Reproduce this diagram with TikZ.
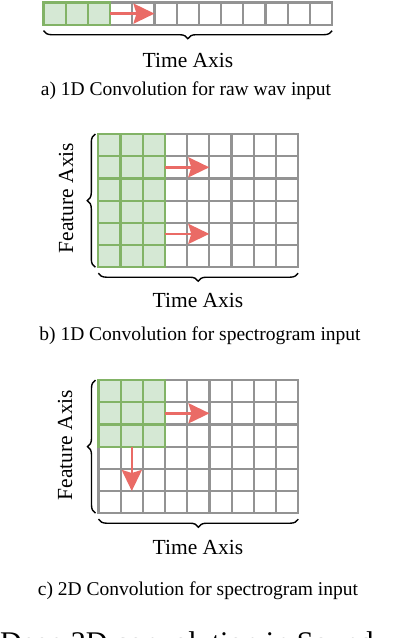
\documentclass[tikz,border=0pt]{standalone}
\usepackage{fontspec}
\setmainfont{Liberation Serif}
\usepackage{xcolor}
\usepackage{tikz}
\usetikzlibrary{arrows.meta,positioning,calc,decorations.pathreplacing}

\definecolor{kernelfill}{HTML}{D5E8D4}
\definecolor{kernelborder}{HTML}{82B366}
\definecolor{slidered}{HTML}{EA6B66}
\definecolor{gridgray}{HTML}{939393}

\begin{document}
\begin{tikzpicture}[
    x=1pt, y=-1pt,
    >=Stealth,
    cell/.style={
        draw=gridgray,
        line width=2.2pt,
        fill=white,
        minimum size=22.2pt,
        inner sep=0pt,
        outer sep=0pt
    },
    kernelcell/.style={
        cell,
        draw=kernelborder,
        fill=kernelfill
    },
    slide/.style={
        draw=slidered,
        line width=2.6pt,
        -{Stealth[length=21pt, width=20pt, inset=3pt]}
    },
    axisbrace/.style={
        decorate,
        decoration={brace, amplitude=8pt},
        line width=1.4pt
    },
    axislabel/.style={font=\fontsize{21.5}{24}\selectfont},
    caption/.style={font=\fontsize{19.5}{23}\selectfont}
]

\useasboundingbox (0,0) rectangle (396,638);

% a) raw wav: one row of cells
\foreach \c in {1,...,13}
    \node[cell] (a-\c) at ({43.5+22.2*(\c-0.5)},13.6) {};
\foreach \c in {1,2,3}
    \node[kernelcell] (a-\c) at ({43.5+22.2*(\c-0.5)},13.6) {};

\draw[slide] (a-4.west) -- (a-5.east);

\draw[axisbrace] ($(a-13.south east)+(0,6)$) -- ($(a-1.south west)+(0,6)$);
\node[axislabel] (time-a) at (188,60) {Time Axis};
\node[caption] (cap-a) at (186,91) {a) 1D Convolution for raw wav input};

% b) spectrogram, 1D kernel over all features
\foreach \r in {1,...,6}
    \foreach \c in {1,...,9}
        \node[cell] (b-\r-\c) at ({98.3+22.2*(\c-0.5)},{134+22.2*(\r-0.5)}) {};
\foreach \r in {1,...,6}
    \foreach \c in {1,2,3}
        \node[kernelcell] (b-\r-\c) at ({98.3+22.2*(\c-0.5)},{134+22.2*(\r-0.5)}) {};

\draw[slide] (b-2-4.west) -- (b-2-5.east);
\draw[slide] (b-5-4.west) -- (b-5-5.east);

\draw[axisbrace] ($(b-6-1.south west)+(-3,0)$) -- ($(b-1-1.north west)+(-3,0)$);
\draw[axisbrace] ($(b-6-9.south east)+(0,6)$) -- ($(b-6-1.south west)+(0,6)$);
\node[axislabel, rotate=90] (feat-b) at (66,198) {Feature Axis};
\node[axislabel] (time-b) at (198,300) {Time Axis};
\node[caption] (cap-b) at (200,336) {b) 1D Convolution for spectrogram input};

% c) spectrogram, 2D kernel
\foreach \r in {1,...,6}
    \foreach \c in {1,...,9}
        \node[cell] (c-\r-\c) at ({98.5+22.2*(\c-0.5)},{380+22.2*(\r-0.5)}) {};
\foreach \r in {1,2,3}
    \foreach \c in {1,2,3}
        \node[kernelcell] (c-\r-\c) at ({98.5+22.2*(\c-0.5)},{380+22.2*(\r-0.5)}) {};

\draw[slide] (c-2-4.west) -- (c-2-5.east);
\draw[slide] (c-4-2.north) -- (c-5-2.south);

\draw[axisbrace] ($(c-6-1.south west)+(-3,0)$) -- ($(c-1-1.north west)+(-3,0)$);
\draw[axisbrace] ($(c-6-9.south east)+(0,6)$) -- ($(c-6-1.south west)+(0,6)$);
\node[axislabel, rotate=90] (feat-c) at (65,445) {Feature Axis};
\node[axislabel] (time-c) at (198,547) {Time Axis};
\node[caption] (cap-c) at (198,591) {c) 2D Convolution for spectrogram input};

% cut-off line at the bottom edge
\begin{scope}
    \clip (0,0) rectangle (396,638);
    \node[font=\fontsize{30}{34}\selectfont, anchor=base west, inner sep=0pt] (tail) at (0,652)
    {Deep 2D convolution in Sound};
\end{scope}

\end{tikzpicture}
\end{document}
